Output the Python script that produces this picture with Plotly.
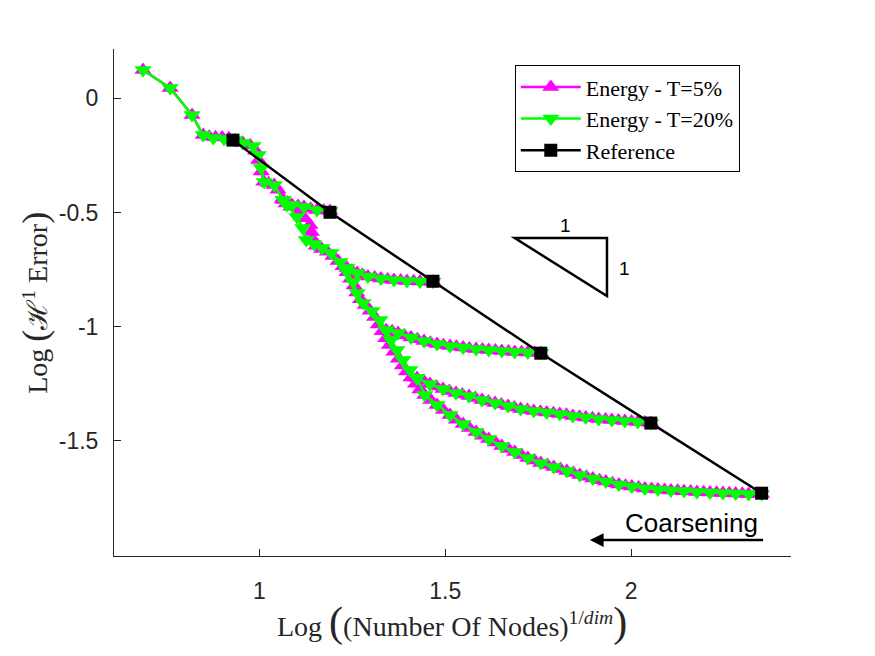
import plotly.graph_objects as go

# reference meshes (black squares)
ref_x = [0.929, 1.190, 1.467, 1.757, 2.053, 2.351]
ref_y = [-0.183, -0.499, -0.801, -1.116, -1.422, -1.729]

# Energy - T=20% : coarsening paths starting from each reference mesh
t20_x6 = [2.351, 2.316, 2.281, 2.247, 2.212, 2.177, 2.142, 2.107, 2.072, 2.037, 2.002,
          1.967, 1.932, 1.897, 1.862, 1.827, 1.792, 1.757, 1.722, 1.687, 1.652, 1.617,
          1.583, 1.548, 1.513, 1.478, 1.445,
          1.424, 1.405, 1.386, 1.370, 1.354, 1.341, 1.324, 1.303, 1.279, 1.263, 1.252,
          1.236, 1.217, 1.193, 1.169, 1.147, 1.126, 1.117, 1.101, 1.074, 1.064, 1.040,
          1.013, 1.005, 0.997, 0.983, 0.956, 0.935, 0.905, 0.876, 0.849, 0.819, 0.760, 0.687]
t20_y6 = [-1.732, -1.732, -1.730, -1.728, -1.726, -1.724, -1.719, -1.717, -1.713, -1.708, -1.700,
          -1.691, -1.678, -1.665, -1.649, -1.632, -1.614, -1.597, -1.575, -1.549, -1.522, -1.492,
          -1.461, -1.426, -1.387, -1.343, -1.299,
          -1.225, -1.190, -1.146, -1.102, -1.059, -1.015, -0.971, -0.931, -0.896, -0.852, -0.804,
          -0.760, -0.717, -0.677, -0.655, -0.638, -0.620, -0.568, -0.520, -0.467, -0.445, -0.380,
          -0.366, -0.305, -0.248, -0.209, -0.196, -0.183, -0.178, -0.174, -0.161, -0.073, 0.045, 0.124]
t20_x5 = [2.053, 2.018, 1.983, 1.948, 1.913, 1.878, 1.843, 1.808, 1.773, 1.738, 1.703,
          1.669, 1.634, 1.599, 1.564, 1.529, 1.494, 1.459, 1.424]
t20_y5 = [-1.422, -1.417, -1.413, -1.409, -1.404, -1.398, -1.391, -1.382, -1.376, -1.369, -1.360,
          -1.347, -1.334, -1.321, -1.303, -1.290, -1.273, -1.251, -1.225]
t20_x4 = [1.757, 1.722, 1.687, 1.652, 1.617, 1.583, 1.548, 1.513, 1.478, 1.443, 1.408, 1.373, 1.341]
t20_y4 = [-1.115, -1.113, -1.111, -1.106, -1.102, -1.098, -1.091, -1.085, -1.076, -1.063, -1.047,
          -1.028, -1.015]
t20_x3 = [1.467, 1.432, 1.397, 1.362, 1.327, 1.292, 1.263, 1.236]
t20_y3 = [-0.803, -0.802, -0.800, -0.796, -0.789, -0.780, -0.765, -0.743]
t20_x2 = [1.190, 1.155, 1.120, 1.088, 1.064]
t20_y2 = [-0.493, -0.489, -0.476, -0.467, -0.445]

# Energy - T=5% : same paths, finer coarsening steps
t5_x6 = [2.351, 2.334, 2.316, 2.299, 2.281, 2.264, 2.247, 2.230, 2.212, 2.195, 2.177, 2.160,
         2.142, 2.125, 2.107, 2.090, 2.072, 2.055, 2.037, 2.020, 2.002, 1.985, 1.967, 1.950,
         1.932, 1.915, 1.897, 1.880, 1.862, 1.845, 1.827, 1.810, 1.792, 1.775, 1.757, 1.740,
         1.722, 1.705, 1.687, 1.670, 1.652, 1.635, 1.617, 1.600, 1.583, 1.565, 1.548, 1.530,
         1.513, 1.495, 1.478, 1.461, 1.445,
         1.432, 1.420, 1.408, 1.396, 1.385, 1.374, 1.362, 1.350, 1.340, 1.330, 1.320, 1.310,
         1.298, 1.285, 1.272, 1.262, 1.255, 1.246, 1.236, 1.225, 1.212, 1.198, 1.183, 1.168,
         1.153, 1.143, 1.140, 1.136, 1.122, 1.105, 1.085, 1.072, 1.062, 1.050, 1.040, 1.025,
         1.012, 1.005, 0.998, 0.990, 0.975, 0.955, 0.935, 0.918, 0.900, 0.882, 0.865, 0.849,
         0.819, 0.760, 0.687]
t5_y6 = [-1.732, -1.732, -1.732, -1.731, -1.730, -1.729, -1.728, -1.727, -1.726, -1.725, -1.724, -1.722,
         -1.720, -1.718, -1.717, -1.715, -1.713, -1.711, -1.708, -1.704, -1.700, -1.696, -1.691, -1.685,
         -1.678, -1.672, -1.665, -1.657, -1.649, -1.641, -1.632, -1.623, -1.614, -1.606, -1.597, -1.586,
         -1.575, -1.562, -1.549, -1.536, -1.522, -1.507, -1.492, -1.477, -1.461, -1.444, -1.426, -1.407,
         -1.387, -1.365, -1.343, -1.321, -1.299,
         -1.275, -1.250, -1.222, -1.196, -1.170, -1.140, -1.110, -1.080, -1.050, -1.020, -0.990, -0.958,
         -0.930, -0.905, -0.880, -0.850, -0.820, -0.790, -0.762, -0.735, -0.712, -0.690, -0.672, -0.660,
         -0.645, -0.615, -0.585, -0.555, -0.525, -0.500, -0.475, -0.460, -0.440, -0.400, -0.380, -0.372,
         -0.365, -0.320, -0.270, -0.230, -0.205, -0.195, -0.185, -0.175, -0.172, -0.170, -0.168, -0.161,
         -0.073, 0.045, 0.124]
t5_x5 = [2.053, 2.036, 2.018, 2.001, 1.983, 1.966, 1.948, 1.931, 1.913, 1.896, 1.878, 1.861,
         1.843, 1.826, 1.808, 1.791, 1.773, 1.756, 1.738, 1.721, 1.703, 1.686, 1.669, 1.651,
         1.634, 1.616, 1.599, 1.581, 1.564, 1.546, 1.529, 1.511, 1.494, 1.476, 1.459, 1.442, 1.424]
t5_y5 = [-1.422, -1.419, -1.417, -1.415, -1.413, -1.411, -1.409, -1.406, -1.404, -1.401, -1.398, -1.394,
         -1.391, -1.386, -1.382, -1.379, -1.376, -1.372, -1.369, -1.365, -1.360, -1.354, -1.347, -1.341,
         -1.334, -1.328, -1.321, -1.312, -1.303, -1.297, -1.290, -1.282, -1.273, -1.262, -1.251, -1.238, -1.225]
t5_x4 = [1.757, 1.740, 1.722, 1.705, 1.687, 1.670, 1.652, 1.635, 1.617, 1.600, 1.583, 1.565,
         1.548, 1.530, 1.513, 1.495, 1.478, 1.460, 1.443, 1.425, 1.408, 1.390, 1.373, 1.357, 1.341]
t5_y4 = [-1.115, -1.114, -1.113, -1.112, -1.111, -1.109, -1.106, -1.104, -1.102, -1.100, -1.098, -1.095,
         -1.091, -1.088, -1.085, -1.081, -1.076, -1.070, -1.063, -1.055, -1.047, -1.038, -1.028, -1.020, -1.015]
t5_x3 = [1.467, 1.450, 1.432, 1.415, 1.397, 1.380, 1.362, 1.345, 1.327, 1.310, 1.292, 1.277,
         1.263, 1.249, 1.236]
t5_y3 = [-0.803, -0.803, -0.802, -0.801, -0.800, -0.798, -0.796, -0.793, -0.789, -0.785, -0.780, -0.773,
         -0.765, -0.755, -0.743]
t5_x2 = [1.190, 1.173, 1.155, 1.138, 1.120, 1.104, 1.088, 1.076, 1.064]
t5_y2 = [-0.493, -0.491, -0.489, -0.483, -0.476, -0.471, -0.467, -0.456, -0.445]

x_ticks = [1, 1.5, 2]
y_ticks = [0, -0.5, -1, -1.5]

MAGENTA = "#ff00ff"
GREEN = "#00ff00"
AXIS = "#262626"
SERIF = "Liberation Serif"
SANS = "Liberation Sans"

fig = go.Figure()

t5_paths = [(t5_x6, t5_y6), (t5_x5, t5_y5), (t5_x4, t5_y4), (t5_x3, t5_y3), (t5_x2, t5_y2)]
for i, (xs, ys) in enumerate(t5_paths):
    fig.add_trace(go.Scatter(
        x=xs, y=ys, mode="lines+markers", name="Energy - T=5%",
        legendgroup="t5", showlegend=(i == 0),
        line=dict(color=MAGENTA, width=2.5),
        marker=dict(symbol="triangle-up", size=15, color=MAGENTA),
    ))

t20_paths = [(t20_x6, t20_y6), (t20_x5, t20_y5), (t20_x4, t20_y4), (t20_x3, t20_y3), (t20_x2, t20_y2)]
for i, (xs, ys) in enumerate(t20_paths):
    fig.add_trace(go.Scatter(
        x=xs, y=ys, mode="lines+markers", name="Energy - T=20%",
        legendgroup="t20", showlegend=(i == 0),
        line=dict(color=GREEN, width=2.5),
        marker=dict(symbol="triangle-down", size=15, color=GREEN),
    ))

fig.add_trace(go.Scatter(
    x=ref_x, y=ref_y, mode="lines+markers", name="Reference",
    line=dict(color="black", width=2.5),
    marker=dict(symbol="square", size=13, color="black"),
))

# slope triangle
fig.add_shape(type="path", xref="x", yref="y",
              path="M 1.687,-0.612 L 1.935,-0.612 L 1.935,-0.866 Z",
              line=dict(color="black", width=2.5))
fig.add_annotation(x=1.824, y=-0.556, xref="x", yref="y", text="1", showarrow=False,
                   font=dict(family=SANS, size=19, color="black"))
fig.add_annotation(x=1.983, y=-0.743, xref="x", yref="y", text="1", showarrow=False,
                   font=dict(family=SANS, size=19, color="black"))

# coarsening arrow
fig.add_annotation(x=1.889, y=-1.934, ax=2.359, ay=-1.934, xref="x", yref="y",
                   axref="x", ayref="y", text="", showarrow=True,
                   arrowhead=2, arrowsize=1.1, arrowwidth=2.5, arrowcolor="black")
fig.add_annotation(x=2.163, y=-1.859, xref="x", yref="y", text="Coarsening", showarrow=False,
                   font=dict(family=SANS, size=26, color="black"))

# axis titles
fig.add_annotation(
    x=0.499, y=-0.132, xref="paper", yref="paper", showarrow=False,
    xanchor="center", yanchor="middle",
    text='Log <span style="font-size:42px">(</span>(Number Of Nodes)<sup>1/<i>dim</i></sup><span style="font-size:42px">)</span>',
    font=dict(family=SERIF, size=28, color=AXIS),
)
fig.add_annotation(
    x=-0.117, y=0.499, xref="paper", yref="paper", showarrow=False, textangle=-90,
    xanchor="center", yanchor="middle",
    text='Log <span style="font-size:36px">(</span>ℋ<sup>1</sup> Error<span style="font-size:36px">)</span>',
    font=dict(family=SERIF, size=28, color=AXIS),
)

# the page body adds an 8 px offset, so the figure is 8 px smaller and margins shift
fig.update_layout(
    width=867, height=648,
    margin=dict(l=106, r=84, t=41, b=100, autoexpand=False),
    plot_bgcolor="white", paper_bgcolor="white",
    showlegend=True,
    legend=dict(
        x=0.592, y=0.968, xanchor="left", yanchor="top",
        bgcolor="white", bordercolor="black", borderwidth=1,
        font=dict(family=SERIF, size=22, color="black"),
        itemwidth=60, tracegroupgap=0,
    ),
)
fig.update_xaxes(
    range=[0.609, 2.43], tickvals=x_ticks, ticktext=["1", "1.5", "2"],
    showline=True, linecolor=AXIS, linewidth=1, mirror=False, automargin=False,
    ticks="inside", ticklen=7, tickcolor=AXIS, showgrid=False, zeroline=False,
    tickfont=dict(family=SANS, size=23, color=AXIS), ticklabelstandoff=14,
)
fig.update_yaxes(
    range=[-2.004, 0.216], tickvals=y_ticks, ticktext=["0", "-0.5", "-1", "-1.5"],
    showline=True, linecolor=AXIS, linewidth=1, mirror=False, automargin=False,
    ticks="inside", ticklen=7, tickcolor=AXIS, showgrid=False, zeroline=False,
    tickfont=dict(family=SANS, size=23, color=AXIS), ticklabelstandoff=10,
)

fig.write_html("out.html")
